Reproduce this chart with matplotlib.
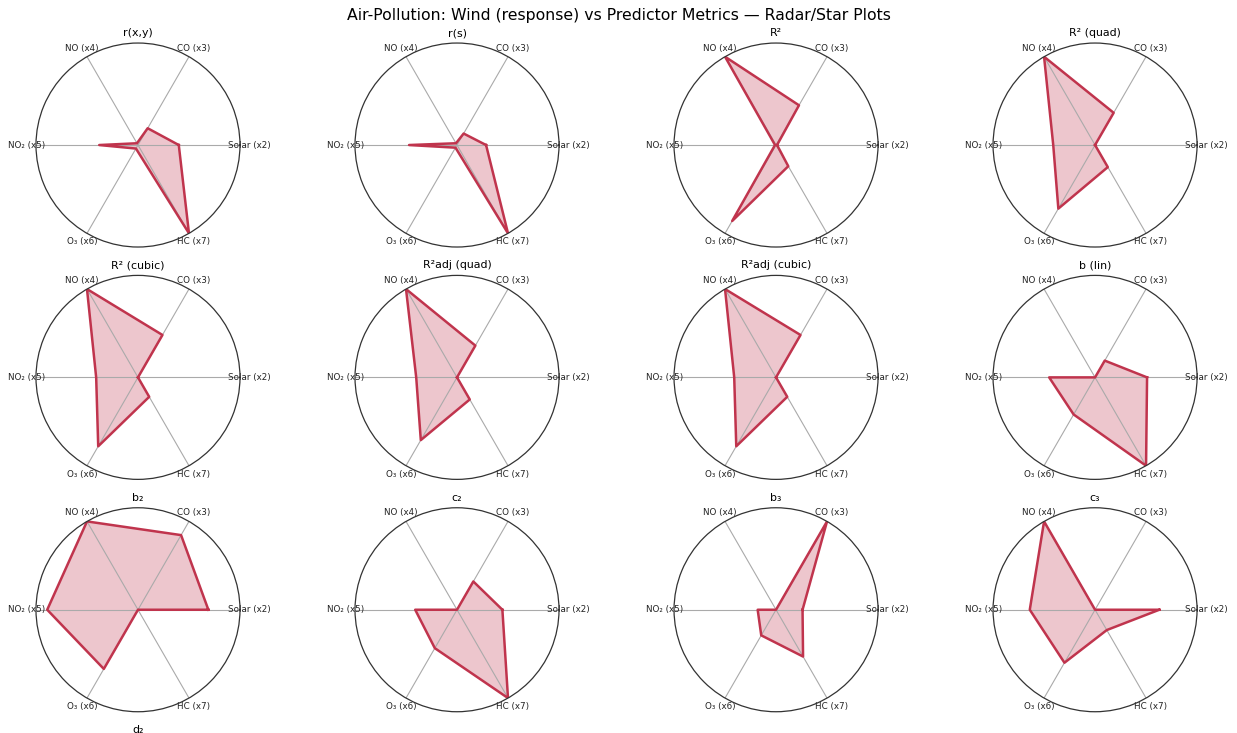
"""Radar/star plots of predictor metrics for the air-pollution wind response"""

import numpy as np
import matplotlib
matplotlib.use("Agg")
import matplotlib.pyplot as plt

# predictors, counter-clockwise from 0 deg
predictors = ["Solar (x2)", "CO (x3)", "NO (x4)", "NO\u2082 (x5)", "O\u2083 (x6)", "HC (x7)"]

# metric values (scaled so the largest of each metric is 1)
r_xy = [0.40, 0.19, 0.02, 0.38, 0.04, 1.00]
r_s = [0.285, 0.13, 0.02, 0.47, 0.03, 1.00]
r2 = [0.01, 0.45, 1.00, 0.01, 0.86, 0.24]
r2_quad = [0.0, 0.365, 1.00, 0.41, 0.72, 0.25]
r2_cubic = [0.0, 0.48, 1.00, 0.41, 0.78, 0.22]
r2adj_quad = [0.0, 0.36, 1.00, 0.40, 0.71, 0.25]
r2adj_cubic = [0.0, 0.48, 1.00, 0.41, 0.78, 0.22]
b_lin = [0.51, 0.19, 0.0, 0.45, 0.42, 1.00]
b2 = [0.69, 0.845, 1.00, 0.89, 0.67, 0.0]
c2 = [0.445, 0.32, 0.0, 0.41, 0.435, 1.00]
b3 = [0.26, 1.00, 0.0, 0.18, 0.29, 0.53]
c3 = [0.63, 0.0, 1.00, 0.64, 0.60, 0.23]

metric_names = ["r(x,y)", "r(s)", "R\u00b2", "R\u00b2 (quad)",
                "R\u00b2 (cubic)", "R\u00b2adj (quad)", "R\u00b2adj (cubic)", "b (lin)",
                "b\u2082", "c\u2082", "b\u2083", "c\u2083", "d\u2082"]
metric_values = [r_xy, r_s, r2, r2_quad, r2_cubic, r2adj_quad, r2adj_cubic,
                 b_lin, b2, c2, b3, c3, None]  # d2 panel falls below the frame

line_color = "#C0344D"

angles = np.linspace(0, 2 * np.pi, len(predictors), endpoint=False)
closed = np.append(angles, angles[0])

fig, axes = plt.subplots(4, 4, figsize=(12.37, 7.33), dpi=100,
                         subplot_kw={"projection": "polar"})
fig.subplots_adjust(left=0.0291, right=0.9677, top=0.9413, bottom=-0.288,
                    wspace=0.564, hspace=0.139)

axes = axes.ravel()
for i, ax in enumerate(axes):
    if i >= len(metric_names):
        ax.remove()
        continue
    vals = metric_values[i]
    if vals is not None:
        v = np.append(vals, vals[0])
        ax.fill(closed, v, color=line_color, alpha=0.28, lw=0)
        ax.plot(closed, v, color=line_color, lw=1.8)
    ax.set_ylim(0, 1)
    ax.set_yticks([])
    ax.set_xticks(angles)
    ax.set_xticklabels(predictors, fontsize=6.3, color="#222222")
    ax.tick_params(axis="x", pad=-3.5)
    ax.xaxis.grid(True, color="#aaaaaa", lw=0.8)
    ax.spines["polar"].set_color("#333333")
    ax.spines["polar"].set_linewidth(0.9)
    ax.set_title(metric_names[i], fontsize=7.9, pad=5)

fig.suptitle("Air-Pollution: Wind (response) vs Predictor Metrics \u2014 Radar/Star Plots",
             fontsize=11.3, y=0.989)

fig.savefig("out.png", dpi=100)
